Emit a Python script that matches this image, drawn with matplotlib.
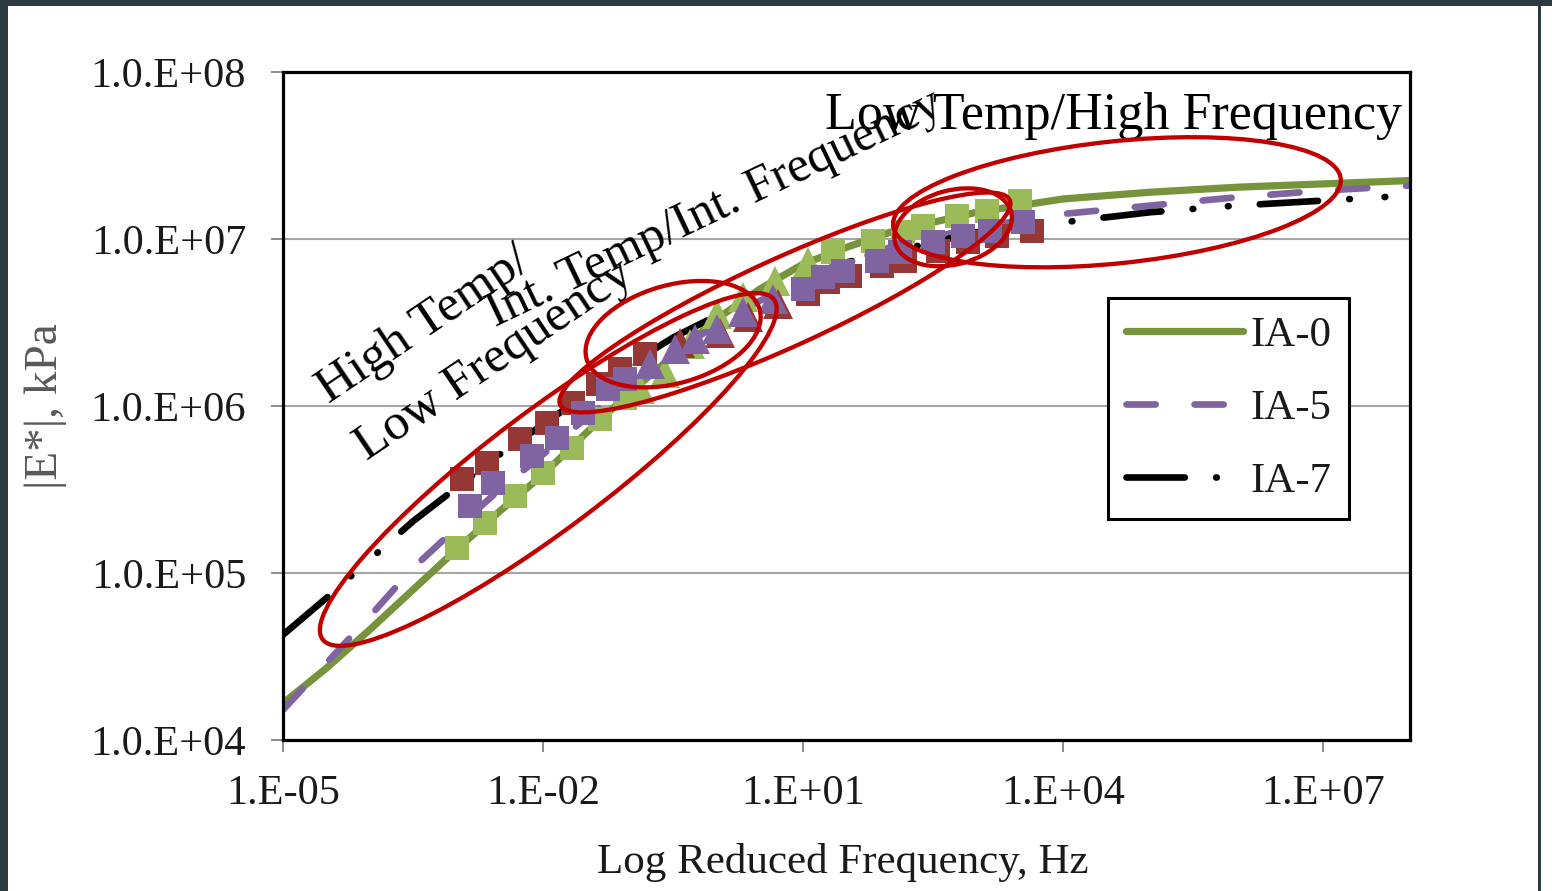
import matplotlib
matplotlib.use("Agg")
import matplotlib.pyplot as plt
import numpy as np
from matplotlib.patches import Ellipse, Rectangle
from matplotlib.transforms import IdentityTransform
from matplotlib.ticker import NullLocator

plt.rcParams['font.family'] = ['Liberation Serif', 'DejaVu Serif']
plt.rcParams['lines.scale_dashes'] = False

# master curves: log10 reduced frequency (Hz) vs log10 |E*| (kPa)
curve_log_f = [-5, -4.5, -4, -3.5, -3, -2.5, -2, -1.5, -1, -0.5, 0, 0.5, 1,
               1.5, 2, 2.5, 3, 3.5, 4, 5, 6, 7, 8]
ia0_log_e = [4.22, 4.43, 4.66, 4.90, 5.14, 5.37, 5.59, 5.84, 6.08, 6.30, 6.52, 6.70, 6.85,
             6.95, 7.04, 7.10, 7.16, 7.20, 7.24, 7.28, 7.31, 7.33, 7.35]
ia5_log_e = [4.18, 4.46, 4.74, 5.03, 5.27, 5.50, 5.71, 5.93, 6.13, 6.31, 6.49, 6.63, 6.75,
             6.86, 6.95, 7.01, 7.07, 7.11, 7.15, 7.20, 7.25, 7.29, 7.32]
ia7_log_e = [4.63, 4.85, 5.08, 5.31, 5.51, 5.71, 5.89, 6.07, 6.25, 6.41, 6.54, 6.66, 6.77,
             6.86, 6.92, 6.98, 7.04, 7.07, 7.10, 7.16, 7.20, 7.23, 7.26]

# measured points (log10 f, log10 E): high temp squares, int. temp triangles, low temp squares
ia0_sq_lo_f = [-2.99, -2.67, -2.32, -2.00, -1.67, -1.34, -1.06]
ia0_sq_lo_e = [5.15, 5.30, 5.46, 5.60, 5.75, 5.92, 6.05]
ia0_tri_f = [-0.88, -0.59, -0.31, 0.01, 0.31, 0.68, 1.06]
ia0_tri_e = [6.10, 6.20, 6.37, 6.55, 6.65, 6.75, 6.86]
ia0_sq_hi_f = [1.34, 1.81, 2.15, 2.38, 2.77, 3.12, 3.50]
ia0_sq_hi_e = [6.92, 6.99, 7.04, 7.08, 7.14, 7.17, 7.23]

ia5_sq_lo_f = [-2.84, -2.58, -2.13, -1.84, -1.54, -1.25, -1.06]
ia5_sq_lo_e = [5.40, 5.54, 5.70, 5.81, 5.96, 6.10, 6.16]
ia5_tri_f = [-0.77, -0.48, -0.25, 0.01, 0.31, 0.65]
ia5_tri_e = [6.25, 6.34, 6.40, 6.46, 6.56, 6.64]
ia5_sq_hi_f = [1.00, 1.23, 1.46, 1.85, 2.12, 2.50, 2.84, 3.16, 3.54]
ia5_sq_hi_e = [6.70, 6.77, 6.81, 6.87, 6.92, 6.98, 7.02, 7.05, 7.10]

ia7_sq_lo_f = [-2.94, -2.65, -2.27, -1.96, -1.66, -1.37, -1.11, -0.83]
ia7_sq_lo_e = [5.56, 5.66, 5.80, 5.90, 6.02, 6.13, 6.22, 6.31]
ia7_tri_f = [-0.42, 0.04, 0.36, 0.71]
ia7_tri_e = [6.38, 6.44, 6.53, 6.61]
ia7_sq_hi_f = [1.06, 1.29, 1.54, 1.91, 2.17, 2.56, 2.90, 3.24, 3.64]
ia7_sq_hi_e = [6.67, 6.74, 6.78, 6.84, 6.87, 6.93, 6.98, 7.02, 7.05]

x_ticks = [1e-5, 1e-2, 1e1, 1e4, 1e7]
x_tick_labels = ['1.E-05', '1.E-02', '1.E+01', '1.E+04', '1.E+07']
y_ticks = [1e4, 1e5, 1e6, 1e7, 1e8]
y_tick_labels = ['1.0.E+04', '1.0.E+05', '1.0.E+06', '1.0.E+07', '1.0.E+08']
series_names = ['IA-0', 'IA-5', 'IA-7']

# region ellipses: centre (log f, log E), width/height in px, angle in deg
ell_log_f = [-1.94, -0.50, 0.79, 2.73, 4.62]
ell_log_e = [5.62, 6.43, 6.62, 7.07, 7.22]
ell_w = [565, 180, 494, 120, 450]
ell_h = [118, 98, 88, 74, 122]
ell_ang = [37, 16, 24.5, 15, 6]

GREEN_L, GREEN_M = '#77933C', '#9BBB59'
PURPLE = '#8064A2'
RED_M = '#953735'
TXT = '#1a1a1a'


def p10(v):
    return 10.0 ** np.asarray(v)


fig = plt.figure(figsize=(15.52, 8.91), dpi=100)
fig.add_artist(Rectangle((0, 1 - 6 / 891), 1, 6 / 891, transform=fig.transFigure,
                         color='#2c3a42', lw=0))
fig.add_artist(Rectangle((0, 0), 8 / 1552, 1, transform=fig.transFigure,
                         color='#2c3a42', lw=0))
fig.add_artist(Rectangle((1538 / 1552, 0), 3 / 1552, 1, transform=fig.transFigure,
                         color='#2c3a42', lw=0))

ax = fig.add_axes([283 / 1552, 151 / 891, 1127 / 1552, 668 / 891])
ax.set_xscale('log')
ax.set_yscale('log')
ax.set_xlim(1e-5, 1e8)
ax.set_ylim(1e4, 1e8)

# master curves (under the measured points)
l0, = ax.plot(p10(curve_log_f), p10(ia0_log_e), color=GREEN_L, lw=5.2,
              solid_capstyle='round', zorder=2)
l5, = ax.plot(p10(curve_log_f), p10(ia5_log_e), color=PURPLE, lw=4.8,
              dashes=(21, 28), dash_capstyle='round', zorder=2)
l7, = ax.plot(p10(curve_log_f), p10(ia7_log_e), color='black', lw=4.8,
              dashes=(42, 22.5, 0.5, 25, 0.5, 22.5), dash_capstyle='round', zorder=2)

# measured data
SQ, TRI = 17, 21
mk = dict(ls='none', mew=0, zorder=3)
ax.plot(p10(ia0_sq_lo_f), p10(ia0_sq_lo_e), marker='s', ms=SQ, color=GREEN_M, **mk)
ax.plot(p10(ia0_tri_f), p10(ia0_tri_e), marker='^', ms=TRI, color=GREEN_M, **mk)
ax.plot(p10(ia0_sq_hi_f), p10(ia0_sq_hi_e), marker='s', ms=SQ, color=GREEN_M, **mk)
ax.plot(p10(ia7_sq_lo_f), p10(ia7_sq_lo_e), marker='s', ms=SQ, color=RED_M, **mk)
ax.plot(p10(ia7_tri_f), p10(ia7_tri_e), marker='^', ms=TRI, color=RED_M, **mk)
ax.plot(p10(ia7_sq_hi_f), p10(ia7_sq_hi_e), marker='s', ms=SQ, color=RED_M, **mk)
ax.plot(p10(ia5_sq_lo_f), p10(ia5_sq_lo_e), marker='s', ms=SQ, color=PURPLE, **mk)
ax.plot(p10(ia5_tri_f), p10(ia5_tri_e), marker='^', ms=TRI, color=PURPLE, **mk)
ax.plot(p10(ia5_sq_hi_f), p10(ia5_sq_hi_e), marker='s', ms=SQ, color=PURPLE, **mk)

# axes styling
for s in ax.spines.values():
    s.set_linewidth(2.3)
    s.set_color('black')
ax.set_xticks(x_ticks)
ax.set_xticklabels(x_tick_labels)
ax.set_yticks(y_ticks)
ax.set_yticklabels(y_tick_labels)
ax.xaxis.set_minor_locator(NullLocator())
ax.yaxis.set_minor_locator(NullLocator())
ax.tick_params(axis='both', direction='out', length=8.5, width=1.4, color='#8c8c8c',
               labelsize=30.5, labelcolor=TXT)
ax.tick_params(axis='y', pad=18)
ax.tick_params(axis='x', pad=16)
ax.yaxis.grid(True, color='#a6a6a6', lw=1.5)
ax.set_axisbelow(True)

ax.set_xlabel('Log Reduced Frequency, Hz', fontsize=31, color=TXT)
ax.xaxis.set_label_coords(0.497, -0.154)
ax.set_ylabel('|E*|, kPa', fontsize=34, color='#595959')
ax.yaxis.set_label_coords(-0.192, 0.5)

leg = ax.legend([l0, l5, l7], series_names, loc='upper left', bbox_to_anchor=(0.732, 0.6617),
                borderaxespad=0, fontsize=31, handlelength=2.72, handletextpad=0.16,
                labelspacing=0.78, borderpad=0.42, fancybox=False, framealpha=1,
                edgecolor='black')
leg.get_frame().set_linewidth(2.2)
for t in leg.get_texts():
    t.set_color(TXT)

# annotations
txt_kw = dict(rotation_mode='anchor', ha='left', va='baseline', color='black', zorder=6)
ax.text(10 ** -4.47, 10 ** 6.01, 'High Temp/', rotation=34, fontsize=37, **txt_kw)
ax.text(10 ** -4.03, 10 ** 5.67, 'Low Frequency', rotation=34, fontsize=37, **txt_kw)
ax.text(10 ** -2.55, 10 ** 6.47, 'Int. Temp/Int. Frequency', rotation=25.5, fontsize=36,
        **txt_kw)
ax.text(10 ** 1.25, 10 ** 7.66, 'Low Temp/High Frequency', rotation=0, fontsize=37.5,
        **txt_kw)

for lf, le, w, h, a in zip(ell_log_f, ell_log_e, ell_w, ell_h, ell_ang):
    cx, cy = ax.transData.transform((10 ** lf, 10 ** le))
    fig.add_artist(Ellipse((cx, cy), w, h, angle=a, transform=IdentityTransform(),
                           fill=False, ec='#c00000', lw=3.1, zorder=7))

fig.savefig('out.png', dpi=100)
